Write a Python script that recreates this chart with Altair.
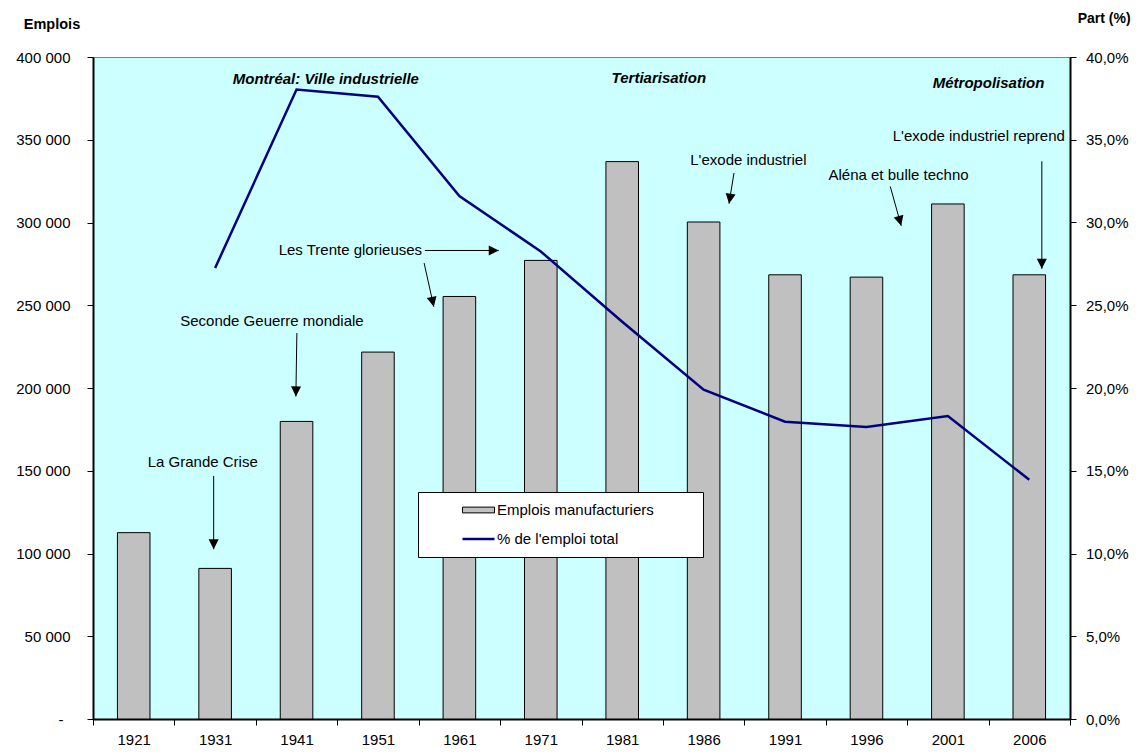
import math
import altair as alt
import pandas as pd

FONT = "Liberation Sans"

# ---- data ----
YEARS = ["1921", "1931", "1941", "1951", "1961", "1971", "1981", "1986", "1991", "1996", "2001", "2006"]
EMPLOIS = [112600, 91000, 179800, 221700, 255300, 277100, 336800, 300300, 268400, 267000, 311200, 268400]

LINE_YEARS = ["1931", "1941", "1951", "1961", "1971", "1981", "1986", "1991", "1996", "2001", "2006"]
PART = [0.2725, 0.3803, 0.376, 0.316, 0.2825, 0.240, 0.199, 0.1796, 0.1765, 0.183, 0.1445]

SERIES_BARS = "Emplois manufacturiers"
SERIES_LINE = "% de l'emploi total"

HEADERS = ["Montréal: Ville industrielle", "Tertiarisation", "Métropolisation"]
HEADER_X = [2.86, 6.95, 11.0]
HEADER_Y = [387000, 387500, 384300]

NOTES = ["La Grande Crise", "Seconde Geuerre mondiale", "Les Trente glorieuses",
         "L'exode industriel", "Aléna et bulle techno", "L'exode industriel reprend"]
NOTE_X = [1.348, 2.198, 3.161, 8.05, 9.894, 10.88]
NOTE_Y = [155000, 240600, 283100, 337500, 328900, 352000]

ARROW_X = [1.482, 2.504, 4.076, 4.067, 7.873, 9.792, 11.654]
ARROW_Y = [146900, 233200, 283100, 275500, 329900, 321800, 337000]
ARROW_X2 = [1.482, 2.492, 4.984, 4.186, 7.812, 9.927, 11.654]
ARROW_Y2 = [102600, 194900, 283100, 249100, 311400, 298000, 272000]

# ---- layout ----
W, H = 977, 662
NCAT = len(YEARS)
YMAX = 400000
PMAX = 0.4

bars_df = pd.DataFrame({"annee": YEARS, "pos": list(range(NCAT)), "emplois": EMPLOIS})
line_df = pd.DataFrame({"annee": LINE_YEARS, "pos": [YEARS.index(y) for y in LINE_YEARS], "part": PART})
head_df = pd.DataFrame({"label": HEADERS, "x": HEADER_X, "y": HEADER_Y})
note_df = pd.DataFrame({"label": NOTES, "x": NOTE_X, "y": NOTE_Y})

angles = []
for x1, y1, x2, y2 in zip(ARROW_X, ARROW_Y, ARROW_X2, ARROW_Y2):
    dx = (x2 - x1) * W / NCAT
    dy = -(y2 - y1) * H / YMAX
    angles.append(math.degrees(math.atan2(dx, -dy)) % 360)
arrow_df = pd.DataFrame({"x": ARROW_X, "y": ARROW_Y, "x2": ARROW_X2, "y2": ARROW_Y2, "ang": angles})

xscale = alt.Scale(domain=[0, NCAT], nice=False, zero=False)
yscale = alt.Scale(domain=[0, YMAX], nice=False)
pscale = alt.Scale(domain=[0, PMAX], nice=False)

years_js = "[" + ",".join("'" + y + "'" for y in YEARS) + "]"
x_axis = alt.Axis(
    title=None,
    values=[k / 2 for k in range(2 * NCAT + 1)],
    labelExpr="(datum.value % 1) == 0.5 ? " + years_js + "[floor(datum.value)] : ''",
    tickOpacity={"condition": {"test": "(datum.value % 1) == 0", "value": 1}, "value": 0},
    tickSize=6, tickColor="black", tickWidth=1,
    domainColor="black", domainWidth=2,
    labelFont=FONT, labelFontSize=15, labelColor="black", labelPadding=7,
    labelOverlap=False, labelFlush=False, grid=False,
)

y_left = alt.Axis(
    values=list(range(0, YMAX + 1, 50000)),
    labelExpr="datum.value === 0 ? '-' : replace(format(datum.value, ','), ',', ' ')",
    title="Emplois", titleAngle=0, titleX=-41.5, titleY=-33,
    titleAlign="center", titleBaseline="middle",
    titleFont=FONT, titleFontSize=14.5, titleFontWeight="bold", titleColor="black",
    tickSize=6, tickColor="black", tickWidth=1,
    domainColor="black", domainWidth=2,
    labelFont=FONT, labelFontSize=15, labelColor="black",
    labelPadding={"condition": {"test": "datum.value === 0", "value": 24}, "value": 17},
    grid=False,
)

y_right = alt.Axis(
    orient="right",
    values=[k * 0.05 for k in range(9)],
    labelExpr="replace(format(datum.value, '.1%'), '.', ',')",
    title="Part (%)", titleAngle=0, titleX=33.7, titleY=-39,
    titleAlign="center", titleBaseline="middle",
    titleFont=FONT, titleFontSize=14, titleFontWeight="bold", titleColor="black",
    tickSize=6, tickColor="black", tickWidth=1,
    domainColor="black", domainWidth=2,
    labelFont=FONT, labelFontSize=15, labelColor="black", labelPadding=9.5,
    grid=False,
)

is_bar = "datum.value == '" + SERIES_BARS + "'"
legend = alt.Legend(
    title=" ", titleOrient="right", titleFontSize=1, titlePadding=38.5,
    orient="none", legendX=325, legendY=435,
    fillColor="white", strokeColor="black", padding=10,
    clipHeight=16, rowPadding=13,
    symbolSize=1024, symbolOffset=43, labelOffset=11,
    symbolType=alt.ExprRef(expr=is_bar + " ? 'M-1,-0.18H1V0.18H-1Z' : 'stroke'"),
    symbolStrokeColor=alt.ExprRef(expr=is_bar + " ? 'black' : '#000080'"),
    symbolStrokeWidth=alt.ExprRef(expr=is_bar + " ? 1 : 2.5"),
    labelFont=FONT, labelFontSize=15, labelColor="black",
)

bars = alt.Chart(bars_df).transform_calculate(
    x0="datum.pos + 0.3", x1="datum.pos + 0.7", serie="'" + SERIES_BARS + "'"
).mark_bar(stroke="black", strokeWidth=1).encode(
    x=alt.X("x0:Q", scale=xscale, axis=x_axis),
    x2="x1:Q",
    y=alt.Y("emplois:Q", scale=yscale, axis=y_left),
    y2=alt.datum(0),
    fill=alt.Fill("serie:N",
                  scale=alt.Scale(domain=[SERIES_BARS, SERIES_LINE], range=["#C0C0C0", "#000080"]),
                  legend=legend),
    tooltip=["annee:N", "emplois:Q"],
)

headers = alt.Chart(head_df).mark_text(
    font=FONT, fontSize=15, fontWeight="bold", fontStyle="italic", color="black",
    align="center", baseline="middle"
).encode(
    x=alt.X("x:Q", scale=xscale, axis=x_axis),
    y=alt.Y("y:Q", scale=yscale, axis=y_left),
    text="label:N",
)

notes = alt.Chart(note_df).mark_text(
    font=FONT, fontSize=15, color="black", align="center", baseline="middle"
).encode(
    x=alt.X("x:Q", scale=xscale, axis=x_axis),
    y=alt.Y("y:Q", scale=yscale, axis=y_left),
    text="label:N",
)

rules = alt.Chart(arrow_df).mark_rule(color="black", strokeWidth=1).encode(
    x=alt.X("x:Q", scale=xscale, axis=x_axis),
    y=alt.Y("y:Q", scale=yscale, axis=y_left),
    x2="x2:Q",
    y2="y2:Q",
)

heads = alt.Chart(arrow_df).mark_point(
    shape="M0,0L-1,2L1,2Z", size=100, filled=True, color="black", opacity=1, strokeWidth=0
).encode(
    x=alt.X("x2:Q", scale=xscale, axis=x_axis),
    y=alt.Y("y2:Q", scale=yscale, axis=y_left),
    angle=alt.Angle("ang:Q", scale=None),
)

line = alt.Chart(line_df).transform_calculate(
    xc="datum.pos + 0.5"
).mark_line(color="#000080", strokeWidth=2.5).encode(
    x=alt.X("xc:Q", scale=xscale, axis=x_axis),
    y=alt.Y("part:Q", scale=pscale, axis=y_right),
    tooltip=["annee:N", "part:Q"],
)

left = alt.layer(bars, headers, notes, rules, heads)

chart = alt.layer(left, line).resolve_scale(y="independent").properties(
    width=W, height=H,
    autosize=alt.AutoSizeParams(type="none"),
    padding={"left": 85, "top": 49, "right": 61, "bottom": 28},
    background="white",
).configure_view(fill="#CCFFFF", stroke="#808080", strokeWidth=1)

chart.save("out.html", embed_options={"renderer": "svg", "actions": False})
